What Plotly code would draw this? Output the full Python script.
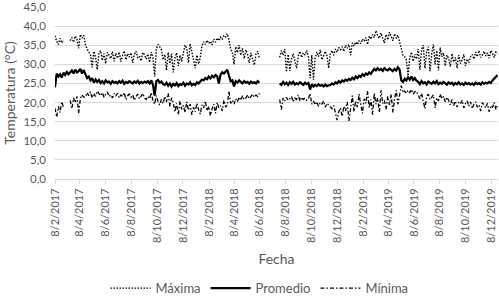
import pandas as pd
import plotly.graph_objects as go

# ---- data (every 4 days), part A: from 2017-02-08, part B: from 2018-07-25 ----
START_A = "2017-02-08"
START_B = "2018-07-25"
STEP = "4D"

maxima_a = [37.5, 36.0, 35.2, 36.8, 35.6, 36.4,
            None, None, None,
            36.2, 37.0, 35.8, 37.4, 36.6, 34.2, 37.8, 36.9, 37.6,
            35.1, 34.0, 33.2,
            32.5, 29.2, 33.4, 31.8, 28.6, 32.9,
            33.6, 31.0, 32.8, 30.2, 33.1, 32.4, 31.5, 33.3, 30.8,
            32.9, 31.6, 33.2, 30.7, 32.4, 33.5, 31.2, 32.8, 31.9, 33.0,
            30.4, 32.6, 33.4, 31.8, 32.2, 30.9, 33.1, 32.5, 31.4, 32.7,
            30.5, 33.2, 31.6, 26.8, 34.0, 35.2,
            34.6, 33.8, 31.2,
            32.6, 28.4, 33.1, 30.2, 32.8, 27.9, 31.7, 33.0, 29.6, 32.4, 30.8,
            33.0, 35.0, 34.2, 30.4, 35.4, 33.6, 31.2, 29.0, 32.4, 30.1, 31.8,
            34.8, 35.9, 35.2, 36.3, 35.5, 36.0, 35.1, 36.6, 35.8, 36.9, 36.2, 37.1, 36.5, 37.6, 37.2, 38.0,
            36.4, 34.0, 33.2,
            30.0,
            34.6, 33.1, 35.0, 32.4, 34.2, 31.5, 33.8,
            32.6, 30.4, 33.0, 31.2, 29.8, 32.8, 33.4, 31.6]
maxima_b = [31.8, 33.6, 32.4, 34.0, 28.0, 32.6, 28.3, 31.4, 32.8, 30.6, 29.0, 32.2, 33.4, 31.8, 33.0, 32.4, 33.6, 32.0,
            26.4, 32.4, 26.0,
            31.6, 33.2, 32.0, 33.8, 31.2, 32.6, 33.4, 32.2, 29.0,
            32.8, 33.6, 32.4, 34.0, 33.2, 34.4, 33.8, 34.6, 33.4, 35.0, 34.2, 35.2, 32.4, 35.6, 34.8, 35.8, 35.2, 36.2, 35.4, 36.6,
            36.0, 37.0, 35.2, 37.4, 36.6, 37.8, 37.0, 38.8, 37.6, 36.8, 38.2, 37.0, 35.6, 37.8, 36.4, 38.4,
            37.4, 36.2, 38.0, 36.8, 37.6, 35.8,
            33.6, 32.4,
            32.0, 31.2, 27.0, 31.8, 33.2, 30.8, 32.6, 31.4,
            34.0, 28.6, 33.8, 35.0, 29.0, 33.2, 34.6, 28.2, 32.8, 35.2, 30.0, 33.6, 28.4, 34.4, 32.0, 33.0, 29.6, 32.4,
            31.6, 29.4, 32.8, 30.6, 31.8, 29.0, 32.4, 30.2, 31.2, 32.6, 29.6, 31.4, 30.4, 32.0,
            32.6, 31.4, 33.2, 32.0, 33.6, 31.8, 32.4, 33.4, 32.2, 33.0, 31.6, 33.6, 32.8, 31.8, 33.2, 32.8]

promedio_a = [24.0, 27.6, 26.8, 27.4, 26.5, 27.8,
              27.2, 28.0, 27.4,
              27.8, 28.4, 27.6, 28.6, 27.9, 28.2, 28.8, 27.6, 28.5,
              27.2, 26.4, 26.8,
              25.8, 26.4, 25.2, 26.0, 25.4, 25.9, 25.1, 25.6, 25.0, 25.8, 25.3, 25.5, 24.9, 25.6, 25.2,
              25.4, 25.0, 25.6, 25.2, 25.7, 24.9, 25.4, 25.1, 25.6, 25.3,
              25.0, 25.5, 25.2, 25.7, 25.0, 25.4, 25.1, 25.5, 25.2, 25.6,
              25.0, 25.8, 24.6, 21.8, 25.6, 25.9, 25.2, 25.5, 24.8,
              24.6, 25.2, 24.4, 25.0, 24.2, 24.9, 24.5, 25.1, 24.3, 24.8, 24.6,
              25.2, 24.4, 25.0, 24.7, 25.3, 24.5, 24.9, 24.6, 25.3, 25.0,
              25.6, 26.0, 25.8, 26.4, 26.1, 26.8, 26.3, 27.0, 26.6, 27.2, 26.9, 25.0, 27.3, 27.9, 27.6, 28.2, 28.6,
              27.0, 25.6, 25.8,
              24.2,
              25.6, 25.2, 25.8, 25.4, 25.0, 25.6, 25.2, 25.4, 24.9, 25.5, 25.1, 25.3, 25.0, 25.6, 25.2]
promedio_b = [25.0, 24.6, 25.4, 24.8, 25.2, 24.6, 25.3, 24.9, 25.4, 24.7, 25.1, 24.8, 25.3, 25.0, 24.6, 25.2, 24.8, 25.1,
              23.4, 24.8, 24.2, 24.6, 24.3, 24.8, 24.4, 24.6, 24.2, 24.7, 24.3, 24.5,
              24.6, 25.0, 24.7, 25.3, 25.0, 25.6, 25.2, 25.8, 25.5, 26.0, 25.7, 26.2, 25.9, 26.5, 26.1, 26.8, 26.4, 27.0, 26.7, 27.4,
              27.0, 27.6, 27.3, 27.9, 27.5, 28.2, 28.8, 28.4, 29.0, 28.5, 28.8, 28.3, 29.0, 28.6, 28.4, 28.9,
              28.6, 28.2, 28.8, 28.4, 29.2, 28.6,
              25.8, 25.4,
              26.2, 25.8, 26.6, 26.0, 26.8, 25.9, 26.4, 25.7,
              25.4, 24.8, 25.6, 25.0, 25.3, 24.7, 25.5, 25.1, 24.9, 25.4, 25.0, 25.6, 24.8, 25.2, 24.9, 25.4,
              25.0, 24.7, 25.3, 24.9, 25.2, 24.6, 25.1, 24.8, 25.3, 24.7, 25.0, 24.6, 25.2, 24.8, 25.1, 24.7,
              25.0, 24.6, 25.2, 24.8, 25.1, 24.7, 25.3, 24.9, 25.2, 25.0, 25.4, 25.1, 25.8, 26.2, 26.8, 27.2]

minima_a = [18.5, 16.2, 19.0, 17.4, 20.2, 18.8,
            None, None, None,
            20.6, 18.4, 21.2, 20.0, 21.6, 17.2, 21.0, 22.0, 21.4,
            21.4, 22.6, 21.8, 22.8, 21.2, 22.4, 21.6, 23.0, 22.2, 21.8, 22.6, 21.4, 22.2, 22.8, 21.6, 22.0, 21.2, 22.4,
            21.8, 22.4, 21.2, 22.0, 21.6, 22.6, 20.8, 21.8, 22.2, 21.4,
            22.0, 20.6, 21.6, 22.2, 21.0, 21.8, 22.4, 21.2, 20.8, 21.6,
            21.0, 22.6, 20.4, 19.6, 21.8, 20.2, 19.4, 20.8, 19.8,
            21.6, 20.2, 22.4, 19.0, 21.2, 20.0, 17.6, 19.8, 16.8, 20.4, 18.2,
            19.2, 17.4, 20.2, 18.0, 19.6, 16.8, 18.8, 17.6, 19.8, 18.2, 17.0, 19.4, 18.6, 20.4,
            17.8, 19.0, 16.6, 18.4, 19.6, 17.2, 20.0, 18.6, 19.2, 17.8, 20.6, 18.8, 19.4,
            23.0, 19.8, 20.6, 19.6, 21.0, 20.2, 21.4, 20.6, 21.8, 20.8,
            21.2, 22.0, 21.0, 21.6, 22.2, 21.4, 22.0, 21.6, 22.4]
minima_b = [20.8, 18.2, 21.2, 20.4, 21.4, 20.6, 21.0, 21.6, 20.2, 21.2, 20.8, 22.0, 20.4, 21.4, 20.8, 21.2, 20.6, 21.0,
            22.4, 19.6, 20.4, 19.4, 20.2, 19.0, 20.0, 19.6, 20.4, 18.8, 19.8, 19.4,
            19.0, 18.4, 19.2, 16.8, 15.4, 17.6, 18.6, 16.4, 19.0, 17.8, 20.2, 15.2, 18.4,
            21.8, 17.6, 20.4, 18.8, 22.2, 19.4, 17.2, 21.0, 19.8, 23.0, 18.6, 20.8,
            16.8, 22.4, 19.6, 21.2, 17.4, 23.2, 19.8, 20.6, 18.2, 21.6, 19.4,
            22.2, 17.4, 21.0, 23.2, 19.6, 22.0,
            24.4, 22.6, 23.0, 22.4, 23.2, 22.6, 23.4, 22.2, 22.8, 23.0,
            21.8, 21.0, 22.4, 20.6, 18.4, 21.6, 22.2, 20.8, 21.4, 22.0, 18.6, 21.2, 20.4, 22.2, 21.0, 21.6, 20.2, 21.4,
            20.6, 19.4, 20.8, 19.2, 20.4, 18.8, 20.0, 19.6, 20.6, 18.6, 19.8, 20.4, 19.0, 20.2, 18.4,
            19.6, 20.2, 18.8, 19.4, 17.8, 20.0, 19.2, 18.6, 19.8, 17.6, 19.2, 18.8, 20.0, 18.2, 19.4]

tick_dates = ["2017-02-08", "2017-04-08", "2017-06-08", "2017-08-08", "2017-10-08", "2017-12-08",
              "2018-02-08", "2018-04-08", "2018-06-08", "2018-08-08", "2018-10-08", "2018-12-08",
              "2019-02-08", "2019-04-08", "2019-06-08", "2019-08-08", "2019-10-08", "2019-12-08"]
tick_labels = ["8/2/2017", "8/4/2017", "8/6/2017", "8/8/2017", "8/10/2017", "8/12/2017",
               "8/2/2018", "8/4/2018", "8/6/2018", "8/8/2018", "8/10/2018", "8/12/2018",
               "8/2/2019", "8/4/2019", "8/6/2019", "8/8/2019", "8/10/2019", "8/12/2019"]
y_ticks = [0, 5, 10, 15, 20, 25, 30, 35, 40, 45]


def build(a, b):
    da = list(pd.date_range(START_A, periods=len(a), freq=STEP))
    db = list(pd.date_range(START_B, periods=len(b), freq=STEP))
    gap = da[-1] + pd.Timedelta(days=2)
    return da + [gap] + db, list(a) + [None] + list(b)


FONT = "Lato, Carlito, Calibri, sans-serif"
GREY = "#595959"
fig = go.Figure()
for name, a, b, width, dash in [
    ("Máxima", maxima_a, maxima_b, 1.4, "1.5px,1.5px"),
    ("Promedio", promedio_a, promedio_b, 2.2, "solid"),
    ("Mínima", minima_a, minima_b, 1.3, "4px,2px,1.5px,2px"),
]:
    x, y = build(a, b)
    fig.add_trace(go.Scatter(x=x, y=y, mode="lines", name=name, connectgaps=False,
                             line=dict(color="black", width=width, dash=dash)))

fig.update_layout(
    width=499, height=298,
    margin=dict(l=55, r=1, t=7, b=119, autoexpand=False),
    paper_bgcolor="white", plot_bgcolor="white",
    separators=",.",
    font=dict(family=FONT, color=GREY, size=12),
    showlegend=True,
    legend=dict(orientation="h", xref="container", yref="paper",
                x=0.52, xanchor="center", y=-0.635, yanchor="middle",
                font=dict(size=13, color=GREY), itemwidth=40,
                tracegroupgap=0, bgcolor="rgba(0,0,0,0)"),
)
fig.update_xaxes(
    type="date", range=["2017-02-08", "2019-12-24"], automargin=False,
    tickmode="array", tickvals=tick_dates, ticktext=tick_labels,
    tickangle=-90, ticks="outside", ticklen=4, tickcolor="#d9d9d9",
    showline=True, linecolor="#d9d9d9", linewidth=1,
    showgrid=False, zeroline=False, ticklabeloverflow="allow",
    tickfont=dict(size=11, color=GREY),
    title=dict(text="Fecha", font=dict(size=14, color=GREY), standoff=12),
)
fig.update_yaxes(
    range=[0, 45], tickmode="array", tickvals=y_ticks, tickformat=".1f", automargin=False,
    showgrid=True, gridcolor="#d9d9d9", gridwidth=1, zeroline=False,
    showline=False, ticks="", ticklabelstandoff=8, ticklabeloverflow="allow",
    tickfont=dict(size=11.5, color=GREY),
    title=dict(text="Temperatura (°C)", font=dict(size=14, color=GREY), standoff=4),
)
fig.write_html("out.html", config={"displayModeBar": False},
               post_script="document.body.style.margin='0px';")
